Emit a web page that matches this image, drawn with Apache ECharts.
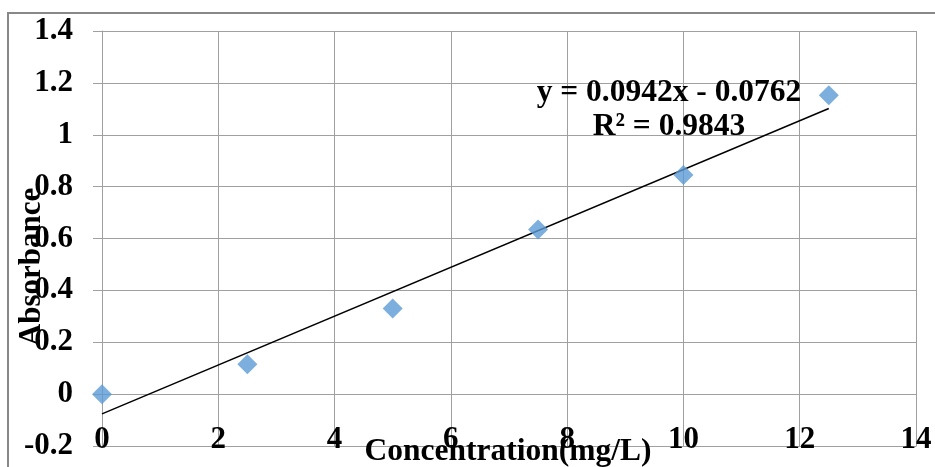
<!DOCTYPE html>
<html>
<head>
<meta charset="utf-8">
<script src="https://cdn.jsdelivr.net/npm/echarts@6/dist/echarts.min.js"></script>
<style>html,body{margin:0;padding:0;background:#fff}#c{width:935px;height:467px}</style>
</head>
<body>
<div id="c"></div>
<script>
// Data
const concentrations = [0, 2.5, 5, 7.5, 10, 12.5];
const absorbances = [0, 0.115, 0.33, 0.635, 0.845, 1.152];
const trendSlope = 0.0942;
const trendIntercept = -0.0762;
const xTickLabels = ['0', '2', '4', '6', '8', '10', '12', '14'];
const yTickLabels = ['-0.2', '0', '0.2', '0.4', '0.6', '0.8', '1', '1.2', '1.4'];
const equationText = 'y = 0.0942x - 0.0762';
const r2Text = 'R\u00b2 = 0.9843';
const xTitle = 'Concentration(mg/L)';
const yTitle = 'Absorbance';

const FONT = '"Liberation Serif", "Times New Roman", serif';
const pts = concentrations.map((x, i) => [x, absorbances[i]]);
const xStart = concentrations[0], xEnd = concentrations[concentrations.length - 1];
const trend = [[xStart, trendSlope * xStart + trendIntercept], [xEnd, trendSlope * xEnd + trendIntercept]];

const chart = echarts.init(document.getElementById('c'), null, {renderer: 'canvas'});
chart.setOption({
  animation: false,
  backgroundColor: '#ffffff',
  grid: {left: 102, top: 31, right: 19, bottom: 21, containLabel: false, outerBoundsMode: 'none'},
  xAxis: {
    type: 'value', min: 0, max: 14, interval: 2,
    axisLine: {show: true, onZero: false, lineStyle: {color: '#a0a0a0', width: 1}},
    axisTick: {show: false},
    axisLabel: {
      margin: -22, fontFamily: FONT, fontWeight: 'bold', fontSize: 31, color: '#000', lineHeight: 31,
      formatter: (v) => xTickLabels[Math.round(v / 2)]
    },
    splitLine: {show: true, lineStyle: {color: '#a0a0a0', width: 1}}
  },
  yAxis: {
    type: 'value', min: -0.2, max: 1.4, interval: 0.2,
    axisLine: {show: true, onZero: false, lineStyle: {color: '#a0a0a0', width: 1}},
    axisTick: {show: true, inside: false, length: 9, lineStyle: {color: '#a0a0a0', width: 1}},
    axisLabel: {
      margin: 29, fontFamily: FONT, fontWeight: 'bold', fontSize: 31, color: '#000',
      formatter: (v) => yTickLabels[Math.round((v + 0.2) / 0.2)]
    },
    splitLine: {show: true, lineStyle: {color: '#a0a0a0', width: 1}}
  },
  graphic: [
    {type: 'rect', silent: true, z: -1, shape: {x: 8, y: 13, width: 1000, height: 1000},
     style: {fill: 'none', stroke: '#888888', lineWidth: 2}},
    {type: 'text', x: 32, y: 267, rotation: Math.PI / 2, z: 100,
     style: {text: yTitle, fontFamily: FONT, fontWeight: 'bold', fontSize: 31, fill: '#000',
             align: 'center', verticalAlign: 'middle'}},
    {type: 'text', x: 508, y: 452, z: 100,
     style: {text: xTitle, fontFamily: FONT, fontWeight: 'bold', fontSize: 31.5, fill: '#000',
             align: 'center', verticalAlign: 'middle'}},
    {type: 'text', x: 669, y: 93, z: 100,
     style: {text: equationText, fontFamily: FONT, fontWeight: 'bold', fontSize: 31.5, fill: '#000',
             align: 'center', verticalAlign: 'middle'}},
    {type: 'text', x: 669, y: 127, z: 100,
     style: {text: r2Text, fontFamily: FONT, fontWeight: 'bold', fontSize: 31.5, fill: '#000',
             align: 'center', verticalAlign: 'middle'}}
  ],
  series: [
    {
      type: 'line', data: trend, symbol: 'none', silent: true,
      lineStyle: {color: '#000', width: 1.5}, z: 3
    },
    {
      type: 'scatter', data: pts, symbol: 'diamond', symbolSize: 20,
      itemStyle: {color: '#5B9BD5'}, z: 4
    }
  ]
});
</script>
</body>
</html>
